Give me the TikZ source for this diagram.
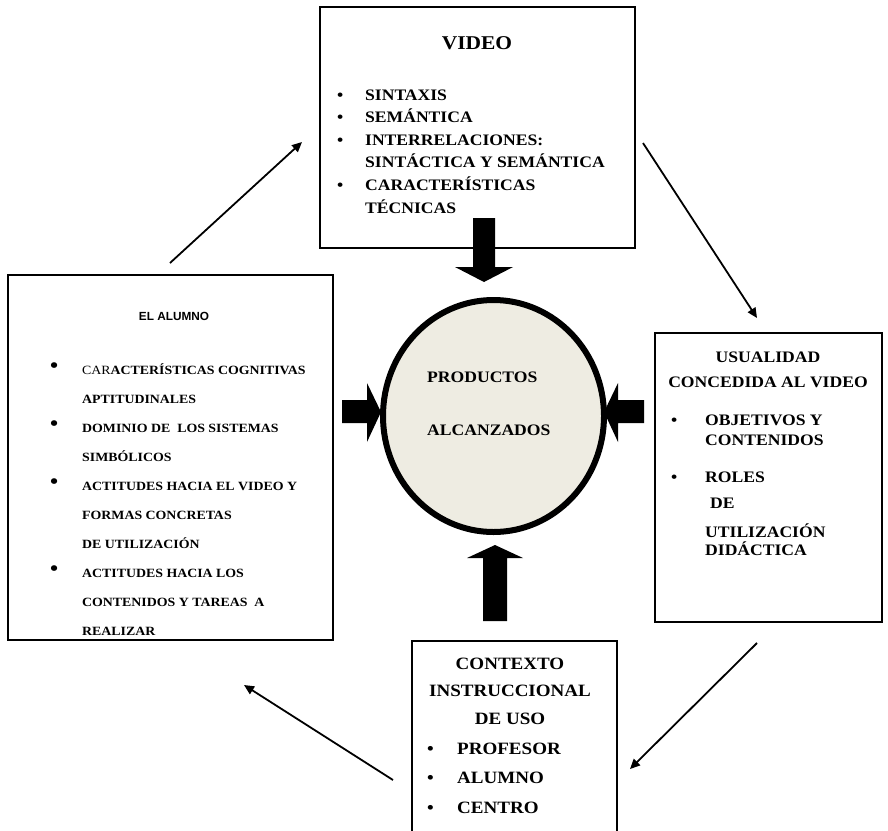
\documentclass[tikz,border=0pt]{standalone}
\usepackage{fontspec}
\setmainfont{Liberation Serif}[FakeStretch=1.1]
\newfontfamily\arialfont{Liberation Sans}
\usetikzlibrary{arrows.meta,shapes.geometric}
\definecolor{circfill}{RGB}{238,236,226}
\newcommand{\bul}[1]{\makebox[#1][l]{\textbullet}}
\newcommand{\bulup}[1]{\makebox[#1][l]{\raisebox{1.5pt}{\fontsize{21}{21}\selectfont\textbullet}}}
\tikzset{
  box/.style={draw, line width=2.6pt, anchor=north west, inner sep=0pt, outer sep=0pt},
  txt/.style={inner sep=0pt, align=left, anchor=base west},
  conn/.style={-{Triangle[length=10pt,width=9pt]}, line width=1.8pt},
}
\begin{document}
\begin{tikzpicture}[x=1pt, y=-1pt, line join=miter]
\useasboundingbox (0,0) rectangle (888,830);
% boxes
\node[box, minimum width=315pt, minimum height=241pt] (video) at (320,7) {};
\node[box, minimum width=325pt, minimum height=365pt] (alumno) at (8,275) {};
\node[box, minimum width=227pt, minimum height=289pt] (usual) at (655,333) {};
\node[box, minimum width=205pt, minimum height=200pt] (contexto) at (412,641) {};
% texts (multi-line nodes sit on their last baseline)
\node[txt, anchor=base, font=\fontsize{19.5}{23}\selectfont\bfseries] (vtitle) at (477,49) {VIDEO};
\node[txt, font=\fontsize{16}{22.6}\selectfont\bfseries] (vlist) at (337,213)
  {\bul{28pt}SINTAXIS\\ \bul{28pt}SEMÁNTICA\\ \bul{28pt}INTERRELACIONES:\\
   \hspace*{28pt}SINTÁCTICA Y SEMÁNTICA\\ \bul{28pt}CARACTERÍSTICAS\\ \hspace*{28pt}TÉCNICAS};
\node[txt, anchor=base, font=\fontsize{11.8}{14}\selectfont\arialfont\bfseries] (atitle) at (174,320) {EL ALUMNO};
\node[txt, font=\fontsize{12.6}{29}\selectfont\bfseries] (alist) at (50,635)
  {\bulup{32pt}{\mdseries CAR}ACTERÍSTICAS COGNITIVAS\\ \hspace*{32pt}APTITUDINALES\\
   \bulup{32pt}DOMINIO DE\ \ LOS SISTEMAS\\ \hspace*{32pt}SIMBÓLICOS\\
   \bulup{32pt}ACTITUDES HACIA EL VIDEO Y\\ \hspace*{32pt}FORMAS CONCRETAS\\ \hspace*{32pt}DE UTILIZACIÓN\\
   \bulup{32pt}ACTITUDES HACIA LOS\\ \hspace*{32pt}CONTENIDOS Y TAREAS\ \ A\\ \hspace*{32pt}REALIZAR};
\node[txt, anchor=base, align=center, font=\fontsize{16}{25}\selectfont\bfseries] (utitle) at (768,387)
  {USUALIDAD\\ CONCEDIDA AL VIDEO};
\node[txt, font=\fontsize{16}{20}\selectfont\bfseries] (ulist) at (671,555)
  {\bul{34pt}OBJETIVOS Y\\ \hspace*{34pt}CONTENIDOS\\[17pt] \bul{34pt}ROLES\\[6pt]
   \hspace*{39pt}DE\\[9pt] \hspace*{34pt}UTILIZACIÓN\\[-2pt] \hspace*{34pt}DIDÁCTICA};
\node[txt, anchor=base, align=center, font=\fontsize{17.3}{27.5}\selectfont\bfseries] (ctitle) at (510,724)
  {CONTEXTO\\ INSTRUCCIONAL\\ DE USO};
\node[txt, font=\fontsize{17.3}{29.5}\selectfont\bfseries] (clist) at (427,813)
  {\bul{30pt}PROFESOR\\ \bul{30pt}ALUMNO\\ \bul{30pt}CENTRO};
% fat arrows
\fill (473,218) -- (495,218) -- (495,267) -- (513,267) -- (484,282) -- (455,267) -- (473,267) -- cycle;
\fill (342,400) -- (367,400) -- (367,383) -- (381,412) -- (367,442) -- (367,423) -- (342,423) -- cycle;
\fill (644,400) -- (618,400) -- (618,383) -- (604,412) -- (618,442) -- (618,423) -- (644,423) -- cycle;
\fill (483,621) -- (483,558) -- (467,558) -- (495,545) -- (523,558) -- (507,558) -- (507,621) -- cycle;
% centre
\node[draw, ellipse, line width=6pt, fill=circfill, minimum width=221pt, minimum height=232pt] (prod) at (493.5,416) {};
\node[txt, font=\fontsize{16}{53}\selectfont\bfseries] (ptext) at (427,435) {PRODUCTOS\\ ALCANZADOS};
% cycle arrows
\coordinate (a1s) at (170,263); \coordinate (a1e) at (302,142);
\coordinate (a2s) at (643,143); \coordinate (a2e) at (757,318);
\coordinate (a3s) at (757,643); \coordinate (a3e) at (630,769);
\coordinate (a4s) at (393,780); \coordinate (a4e) at (244,685);
\draw[conn] (a1s) -- (a1e);
\draw[conn] (a2s) -- (a2e);
\draw[conn] (a3s) -- (a3e);
\draw[conn] (a4s) -- (a4e);
\end{tikzpicture}
\end{document}
